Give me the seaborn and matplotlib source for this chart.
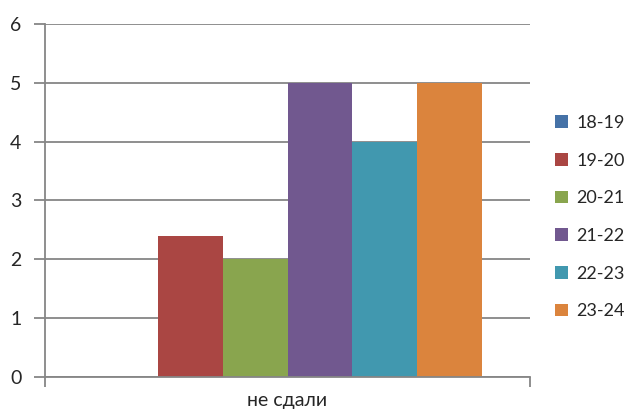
import pandas as pd
import matplotlib.pyplot as plt
import seaborn as sns
from matplotlib.patches import Patch

# data
category = ['не сдали']
seasons = ['18-19', '19-20', '20-21', '21-22', '22-23', '23-24']
values = [0, 2.4, 2, 5, 4, 5]
colors = ['#4572A7', '#AA4643', '#89A54E', '#71588F', '#4198AF', '#DB843D']

df = pd.DataFrame({
    'category': category * len(seasons),
    'season': seasons,
    'value': values,
})

sns.set_style('white')
plt.rcParams['font.family'] = ['Lato', 'DejaVu Sans']

fig = plt.figure(figsize=(6.32, 4.19), dpi=100)
ax = fig.add_axes([0.071, 0.100, 0.768, 0.843])

sns.barplot(data=df, x='category', y='value', hue='season',
            palette=colors, width=0.8, gap=0, saturation=1,
            edgecolor='none', ax=ax, legend=False)

ax.set_ylim(0, 6)
ax.set_xlim(-0.5, 0.5)
ax.set_yticks(range(0, 7))
ax.set_xticks([-0.5, 0.5], minor=True)
ax.yaxis.grid(True, color='#868686', linewidth=1.3)
ax.set_axisbelow(True)
for s in ['top', 'right']:
    ax.spines[s].set_visible(False)
for s in ['left', 'bottom']:
    ax.spines[s].set_color('#868686')
    ax.spines[s].set_linewidth(1.3)

ax.tick_params(axis='y', length=8, width=1.3, color='#868686',
               labelsize=14, pad=9, left=True)
ax.tick_params(axis='x', which='major', length=0, labelsize=14, pad=11)
ax.tick_params(axis='x', which='minor', length=7, width=1.3,
               color='#868686', bottom=True)
ax.set_xlabel('')
ax.set_ylabel('')

handles = [Patch(facecolor=c, edgecolor='none') for c in colors]
fig.legend(handles, seasons, loc='center left', bbox_to_anchor=(0.878, 0.482),
           frameon=False, fontsize=13, handlelength=0.7, handleheight=0.7,
           handletextpad=0.5, labelspacing=1.2, borderpad=0, borderaxespad=0)

fig.savefig('out.png', dpi=100)
plt.close(fig)
